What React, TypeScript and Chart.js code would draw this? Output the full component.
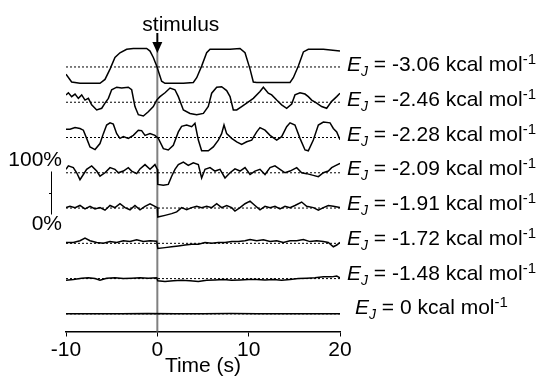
import { useEffect, useRef } from 'react';
import { Chart, registerables } from 'chart.js';

Chart.register(...registerables);

const FONT = '"Liberation Sans", Arial, Helvetica, sans-serif';

const X_TICKS = [-10, 0, 10, 20];
const EJ_VALUES = ['-3.06', '-2.46', '-2.28', '-2.09', '-1.91', '-1.72', '-1.48', '0'];

// trace 1 (E_J = -3.06), values in % relative to its dotted line
const T1 = [-10, -9.38, -8.47, -6.28, -5.73, -5.18, -4.64, -4.09, -3.36, -2.63, -1.17, -0.8, -0.44, -0.07, 0.47, 0.84, 2.85, 3.94, 4.31, 4.85, 5.4, 5.77, 7.96, 9.05, 9.6, 10.15, 10.51, 10.88, 14.53, 14.89, 15.44, 15.99, 16.53, 18.18, 20];
const V1 = [-17, -35, -38, -38, -29, -5, 22, 33, 41, 43, 43, 37, 22, 2, -33, -38, -38, -36, -25, 2, 33, 41, 41, 43, 33, -5, -35, -36, -36, -25, 2, 35, 41, 41, 37];

// trace 2 (E_J = -2.46)
const T2 = [-10, -9.74, -9.38, -9.01, -8.65, -8.28, -7.92, -7.55, -7.19, -6.64, -6.09, -5.73, -5.36, -5.0, -4.45, -3.91, -3.18, -2.81, -2.45, -2.08, -1.53, -0.99, -0.44, -0.07, 0.29, 0.84, 1.39, 1.93, 2.3, 2.85, 3.58, 4.31, 5.04, 5.58, 5.95, 6.5, 7.04, 7.59, 7.96, 8.32, 8.69, 9.23, 9.78, 10.51, 11.24, 11.61, 12.15, 12.52, 13.07, 13.61, 14.16, 14.71, 15.07, 15.62, 16.17, 16.53, 16.9, 17.45, 17.99, 18.54, 19.09, 19.64, 20];
const V2 = [17, 22, 13, 19, 9, 17, 5, 9, -6, -18, -14, -2, 9, 29, 35, 33, 35, 29, -10, -29, -32, -22, -10, 5, 13, 22, 33, 29, 13, -18, -26, -29, -26, -10, 21, 35, 36, 27, 13, -18, -18, -10, -2, 9, 25, 35, 21, 17, 5, -6, -14, -4, 17, 22, 19, 13, 5, -2, -10, -14, 2, 13, 21];

// trace 3 (E_J = -2.28)
const T3 = [-10, -9.56, -9.01, -8.47, -8.1, -7.74, -7.37, -6.82, -6.28, -5.91, -5.55, -5.18, -4.82, -4.45, -4.09, -3.72, -3.18, -2.63, -2.08, -1.72, -1.35, -0.8, -0.26, 0.11, 0.66, 1.2, 1.75, 2.3, 2.66, 3.21, 3.76, 4.12, 4.49, 4.85, 5.58, 6.13, 6.68, 7.04, 7.3, 7.59, 8.14, 8.69, 9.23, 9.78, 10.33, 10.88, 11.24, 11.79, 12.34, 13.07, 13.61, 14.16, 14.53, 15.07, 15.62, 16.17, 16.53, 17.08, 17.63, 18.18, 18.91, 19.27, 19.64, 20];
const V3 = [19, 19, 23, 21, 17, -2, -22, -28, -14, 9, 29, 34, 31, 9, -2, 2, -2, 5, 17, 16, 5, 9, 5, -2, -26, -29, -18, 13, 26, 29, 25, 33, -6, -31, -31, -22, -6, 9, 29, 9, -2, -10, -16, -10, -6, 13, 23, 17, 5, -6, 2, 25, 34, 29, -2, -29, -31, -6, 29, 36, 34, 21, 13, -5];

// trace 4 (E_J = -2.09)
const T4 = [-10, -9.74, -9.2, -8.83, -8.47, -8.1, -7.74, -7.19, -6.64, -6.28, -5.73, -5.18, -4.64, -4.27, -3.72, -3.18, -2.81, -2.26, -1.9, -1.35, -0.8, -0.26, 0, 0.05, 0.66, 1.2, 1.57, 1.93, 2.3, 2.85, 3.39, 3.94, 4.49, 4.85, 5.22, 5.77, 6.31, 6.86, 7.41, 7.96, 8.5, 9.05, 9.6, 10.15, 10.69, 11.24, 11.79, 12.34, 12.88, 13.43, 13.98, 14.53, 15.26, 15.8, 16.35, 17.08, 17.63, 18.18, 18.72, 19.09, 19.45, 20];
const V4 = [8, 16, 12, 0, -16, -4, 8, 16, 4, -8, 0, 12, 8, 0, 4, 12, 4, -2, 9, 19, 8, 19, 8, -27, -29, -27, -8, 8, 19, 25, 17, 23, 19, -12, 8, 12, 4, 8, -12, 0, 9, 4, 12, -4, 4, 8, -4, 12, 16, 8, 0, 4, 12, 0, -2, -6, -9, 0, 4, 12, 16, 22];

// trace 5 (E_J = -1.91)
const T5 = [-10, -9.56, -9.01, -8.47, -7.92, -7.37, -6.82, -6.28, -5.73, -5.18, -4.64, -4.09, -3.54, -2.99, -2.45, -1.9, -1.35, -0.8, -0.26, 0, 0.05, 0.84, 1.57, 2.12, 2.66, 3.21, 3.76, 4.31, 4.85, 5.4, 5.95, 6.5, 7.04, 7.59, 8.14, 8.5, 9.05, 9.6, 10.15, 10.69, 11.24, 11.79, 12.34, 12.88, 13.43, 13.98, 14.53, 15.07, 15.8, 16.35, 17.08, 17.63, 18.18, 18.72, 19.27, 20];
const V5 = [1, 4, 1, 6, -2, 4, -2, 1, -5, 6, 1, 10, 1, -4, 6, -4, 4, 10, 4, 1, -21, -17, -13, -9, 1, -4, 1, 4, 1, 4, 1, 10, 1, 6, 1, -7, 1, 10, 16, 6, -4, 4, 1, 4, -2, 4, 1, 6, 14, 4, 1, -5, 1, 6, 4, 1];

// trace 6 (E_J = -1.72)
const T6 = [-10, -9.2, -8.47, -7.92, -7.37, -6.64, -5.91, -5.18, -4.45, -3.72, -2.99, -2.26, -1.53, -0.8, -0.07, 0.05, 0.84, 1.57, 2.3, 3.03, 3.76, 4.49, 5.22, 5.95, 6.68, 7.41, 8.14, 8.87, 9.6, 10.15, 10.88, 11.61, 12.34, 13.07, 13.8, 14.53, 15.26, 15.99, 16.72, 17.45, 18.18, 18.72, 19.27, 19.64, 20];
const V6 = [2, 2, 6, 12, 6, 2, 0, 4, 2, 6, 4, 8, 4, 6, 5, -12, -10, -8, -6, -4, -2, -2, 2, 0, 2, 2, 4, 4, 6, 9, 6, 8, 4, 6, 2, 6, 6, 9, 4, 6, 4, 2, -8, -4, 2];

// trace 7 (E_J = -1.48)
const T7 = [-10, -9.2, -8.28, -7.55, -6.82, -6.28, -5.55, -4.64, -3.72, -2.81, -1.9, -0.99, -0.07, 0.05, 0.84, 1.75, 2.66, 3.58, 4.49, 5.4, 6.31, 7.23, 8.14, 9.05, 9.96, 10.88, 11.79, 12.7, 13.61, 14.53, 15.44, 16.35, 17.26, 18.18, 19.09, 19.64, 20];
const V7 = [-4, -2, 1, 2, 0, -4, 1, 2, 0, 1, 2, 1, 2, -5, -7, -5, -4, -5, -7, -4, -3, -2, -4, -3, -2, -2, -3, -2, -4, -2, 0, 1, 2, 4, 4, 6, 2];

// trace 8 (E_J = 0)
const T8 = [-10, -7, -4, -1, 2, 5, 8, 11, 14, 17, 20];
const V8 = [0, 0.5, 0, 1, 0, 0.5, 1, 0.5, 0, 0.5, 0];

const TRACE_TIMES = [T1, T2, T3, T4, T5, T6, T7, T8];
const TRACE_VALUES = [V1, V2, V3, V4, V5, V6, V7, V8];

const Y_MAX = 680;
const ROW_SPACING = 82;
const ROW_BOTTOM = 41;
const SCALE_BAR_BOTTOM = 272;
const STIM_TOP = 666;

const rowOffset = (i: number) => ROW_BOTTOM + ROW_SPACING * (TRACE_TIMES.length - 1 - i);

export default function App() {
  const ref = useRef<HTMLCanvasElement | null>(null);

  useEffect(() => {
    const canvas = ref.current;
    if (!canvas) return;
    const datasets: any[] = [];
    TRACE_TIMES.forEach((times, i) => {
      const off = rowOffset(i);
      datasets.push({
        data: [{ x: -10, y: off }, { x: 20, y: off }],
        borderColor: '#000',
        borderWidth: 1,
        borderDash: [2, 2],
        pointRadius: 0,
      });
      datasets.push({
        data: times.map((t, j) => ({ x: t, y: off + TRACE_VALUES[i][j] })),
        borderColor: '#000',
        borderWidth: 1.5,
        pointRadius: 0,
        tension: 0,
      });
    });
    datasets.push({
      data: [{ x: 0, y: 0 }, { x: 0, y: STIM_TOP }],
      borderColor: '#808080',
      borderWidth: 2,
      pointRadius: 0,
      clip: false,
    });

    const overlay = {
      id: 'overlay',
      afterDraw(chart: any) {
        const ctx = chart.ctx;
        const xs = chart.scales.x;
        const ys = chart.scales.y;
        const area = chart.chartArea;
        ctx.save();
        ctx.fillStyle = '#000';
        ctx.strokeStyle = '#000';
        ctx.textBaseline = 'alphabetic';
        ctx.textAlign = 'left';

        // row labels
        EJ_VALUES.forEach((v, i) => {
          const y = ys.getPixelForValue(rowOffset(i)) + 4 - i * 0.5;
          let x = area.right + (v === '0' ? 15 : 7);
          ctx.font = `italic 21px ${FONT}`;
          ctx.fillText('E', x, y);
          x += ctx.measureText('E').width;
          ctx.font = `italic 14px ${FONT}`;
          ctx.fillText('J', x, y + 5);
          x += ctx.measureText('J').width;
          ctx.font = `21px ${FONT}`;
          const mid = ` = ${v} kcal mol`;
          ctx.fillText(mid, x, y);
          x += ctx.measureText(mid).width;
          ctx.font = `15px ${FONT}`;
          ctx.fillText('-1', x, y - 7);
        });

        // stimulus arrow
        const sx = xs.getPixelForValue(0);
        ctx.font = `21px ${FONT}`;
        ctx.fillText('stimulus', sx - 15, 31);
        ctx.lineWidth = 2;
        ctx.beginPath();
        ctx.moveTo(sx, 33);
        ctx.lineTo(sx, 44);
        ctx.stroke();
        ctx.beginPath();
        ctx.moveTo(sx - 5, 42);
        ctx.lineTo(sx + 5, 42);
        ctx.lineTo(sx, 53);
        ctx.closePath();
        ctx.fill();

        // scale bar
        const bx = area.left - 15;
        const b0 = ys.getPixelForValue(SCALE_BAR_BOTTOM);
        const b1 = ys.getPixelForValue(SCALE_BAR_BOTTOM + 100);
        const bm = ys.getPixelForValue(SCALE_BAR_BOTTOM + 50);
        ctx.lineWidth = 1;
        ctx.beginPath();
        ctx.moveTo(bx + 0.5, b0);
        ctx.lineTo(bx + 0.5, b1);
        ctx.moveTo(bx - 2, Math.round(bm) + 0.5);
        ctx.lineTo(bx + 0.5, Math.round(bm) + 0.5);
        ctx.stroke();
        ctx.font = `21px ${FONT}`;
        ctx.textAlign = 'right';
        ctx.fillText('100%', area.left - 4, b1 - 5);
        ctx.fillText('0%', area.left - 4, b0 + 15);
        ctx.restore();
      },
    };

    const chart = new Chart(canvas, {
      type: 'line',
      data: { datasets },
      options: {
        animation: false,
        responsive: false,
        devicePixelRatio: 1,
        layout: { padding: { left: 66, right: 202, top: 39, bottom: 0 } },
        plugins: { legend: { display: false }, tooltip: { enabled: false } },
        scales: {
          x: {
            type: 'linear',
            min: -10,
            max: 20,
            afterBuildTicks: (s: any) => {
              s.ticks = X_TICKS.map((v) => ({ value: v }));
            },
            afterFit: (s: any) => {
              s.height = 46.5;
            },
            ticks: { font: { size: 21, family: FONT }, color: '#000', padding: 1, maxRotation: 0 },
            grid: { display: true, drawOnChartArea: false, drawTicks: true, tickLength: 5, tickColor: '#000', color: '#000' },
            border: { display: true, color: '#000', width: 1.5 },
            title: {
              display: true,
              text: 'Time (s)',
              color: '#000',
              font: { size: 21, family: FONT, lineHeight: 1 },
              padding: { top: 0, bottom: 1 },
            },
          },
          y: { display: false, min: 0, max: Y_MAX },
        },
      },
      plugins: [overlay],
    });
    return () => chart.destroy();
  }, []);

  return (
    <div style={{ position: 'fixed', left: 0, top: 0, width: 542, height: 378, background: '#fff' }}>
      <canvas ref={ref} width={542} height={378} style={{ width: 542, height: 378 }} />
    </div>
  );
}
